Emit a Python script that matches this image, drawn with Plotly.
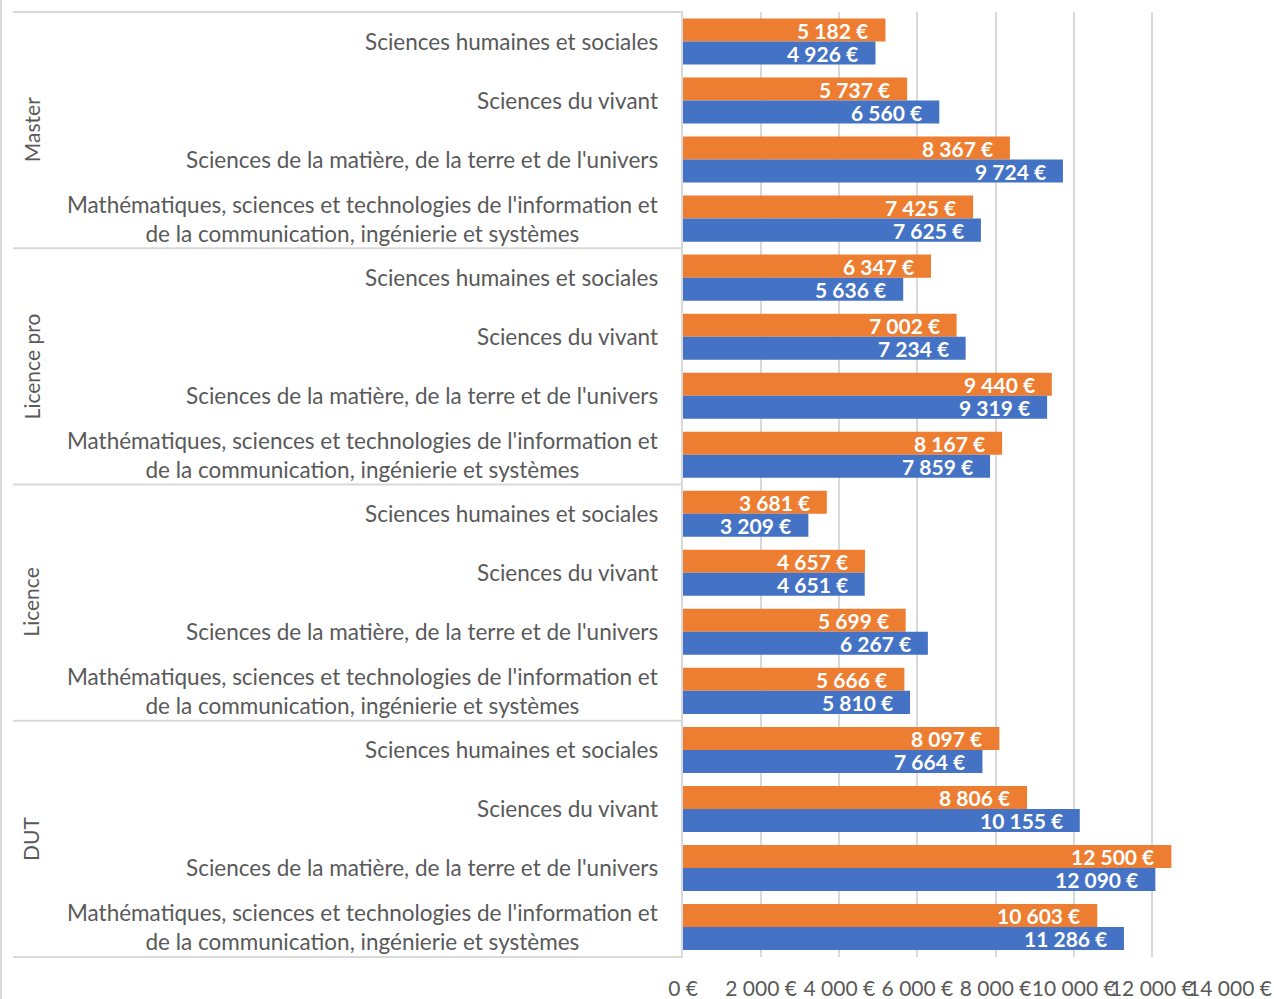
import plotly.graph_objects as go

# Salary data by diploma level and discipline (two series per discipline)
groups = ["Master", "Licence pro", "Licence", "DUT"]
fields = [
    "Sciences humaines et sociales",
    "Sciences du vivant",
    "Sciences de la matière, de la terre et de l'univers",
    "Mathématiques, sciences et technologies de l'information et<br>de la communication, ingénierie et systèmes",
]
series_names = ["Série 1", "Série 2"]
orange_values = [5182, 5737, 8367, 7425,
                 6347, 7002, 9440, 8167,
                 3681, 4657, 5699, 5666,
                 8097, 8806, 12500, 10603]
blue_values = [4926, 6560, 9724, 7625,
               5636, 7234, 9319, 7859,
               3209, 4651, 6267, 5810,
               7664, 10155, 12090, 11286]
x_ticks = [0, 2000, 4000, 6000, 8000, 10000, 12000, 14000]

ORANGE = "#ED7D31"
BLUE = "#4472C4"
GREY_TEXT = "#595959"
GRID = "#D9D9D9"
FONT = "Lato"

W, H = 1274, 999
M_L, M_R, M_T, M_B = 683, 44, 12, 42
plot_w = W - M_L - M_R


def px_to_paper_x(px):
    return (px - M_L) / plot_w


def euro(v):
    return f"{v:,}".replace(",", " ") + " €"


# unique category keys (group|field) so repeated field names stay distinct
keys = [f"{g}|{i}" for g in groups for i in range(len(fields))]
field_of_key = {f"{g}|{i}": fields[i] for g in groups for i in range(len(fields))}

fig = go.Figure()
fig.add_trace(go.Bar(y=keys, x=orange_values, orientation="h", name=series_names[0],
                     marker=dict(color=ORANGE, line=dict(width=0))))
fig.add_trace(go.Bar(y=keys, x=blue_values, orientation="h", name=series_names[1],
                     marker=dict(color=BLUE, line=dict(width=0))))

annotations = []
# value labels inside the bar ends
for k, vo, vb in zip(keys, orange_values, blue_values):
    for v, shift in ((vo, 11.5), (vb, -11.5)):
        annotations.append(dict(
            x=v, y=k, xref="x", yref="y", text=euro(v), showarrow=False,
            xanchor="right", yanchor="middle", xshift=-15, yshift=shift,
            font=dict(family=FONT, size=21, color="white", weight="bold"),
        ))

# discipline labels (right-aligned block, centred lines)
for k in keys:
    annotations.append(dict(
        x=px_to_paper_x(660), y=k, xref="paper", yref="y", text=field_of_key[k],
        showarrow=False, xanchor="right", yanchor="middle", align="center",
        font=dict(family=FONT, size=22.5, color=GREY_TEXT),
    ))

# group labels, rotated, and divider lines between groups
shapes = []
n_groups = len(groups)
for gi, g in enumerate(groups):
    annotations.append(dict(
        x=px_to_paper_x(31), y=1 - (gi + 0.5) / n_groups, xref="paper", yref="paper",
        text=g, showarrow=False, textangle=-90, xanchor="center", yanchor="middle",
        font=dict(family=FONT, size=21, color=GREY_TEXT),
    ))
for gi in range(n_groups + 1):
    yy = 1 - gi / n_groups
    shapes.append(dict(type="line", xref="paper", yref="paper",
                       x0=px_to_paper_x(13), x1=0, y0=yy, y1=yy,
                       line=dict(color=GRID, width=2)))
# outer left frame
shapes.append(dict(type="line", xref="paper", yref="paper",
                   x0=px_to_paper_x(1), x1=px_to_paper_x(1), y0=-M_B / (H - M_T - M_B) - 0.01,
                   y1=1 + M_T / (H - M_T - M_B) + 0.01,
                   line=dict(color=GRID, width=2)))

fig.update_layout(
    width=W, height=H,
    margin=dict(l=M_L, r=M_R, t=M_T, b=M_B, pad=0),
    paper_bgcolor="white", plot_bgcolor="white",
    barmode="group", bargap=0.22, bargroupgap=0,
    showlegend=False,
    annotations=annotations, shapes=shapes,
    font=dict(family=FONT, color=GREY_TEXT),
)
fig.update_xaxes(
    range=[0, 14000], tickvals=x_ticks, ticktext=[euro(v) for v in x_ticks],
    tickangle=0, showgrid=True, gridcolor=GRID, gridwidth=2, zeroline=False,
    showline=False, ticks="", ticklabelstandoff=17, automargin=False,
    tickfont=dict(family=FONT, size=21, color=GREY_TEXT),
)
fig.update_yaxes(
    type="category", categoryorder="array", categoryarray=keys,
    autorange="reversed", showticklabels=False, showgrid=False, zeroline=False,
    showline=True, linecolor=GRID, linewidth=2, ticks="", automargin=False,
)

fig.write_html("out.html")
